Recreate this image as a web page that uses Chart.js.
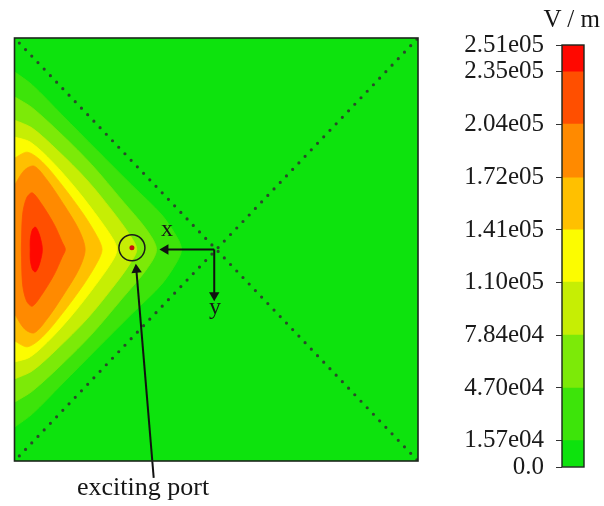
<!DOCTYPE html>
<html lang="en">
<head>
<meta charset="UTF-8">
<title>Field at the exciting port</title>
<script src="https://cdn.jsdelivr.net/npm/chart.js@4.4.1/dist/chart.umd.min.js"></script>
<style>
  body { margin: 0; background: #fff; }
  #wrap { position: relative; width: 604px; height: 506px; font-family: "Liberation Serif", "Times New Roman", serif; color: #151515; }
  #wrap canvas { position: absolute; top: 0; }
  .lbl { position: absolute; line-height: 1; white-space: nowrap; }
</style>
</head>
<body>
<div id="wrap">
  <canvas id="field" width="440" height="506" style="left:0"></canvas>
  <canvas id="bar" width="164" height="506" style="left:440px"></canvas>
  <div class="lbl" style="left:161px;top:216px;font-size:24px">x</div>
  <div class="lbl" style="left:209px;top:294px;font-size:24px">y</div>
  <div class="lbl" style="left:77px;top:474px;font-size:26px">exciting port</div>
  <div class="lbl" style="right:4px;top:6px;font-size:25px">V / m</div>
</div>

<script>
// colour scale, V/m
const levels = [0, 15700, 47000, 78400, 110000, 141000, 172000, 204000, 235000, 251000];
const tickLabels = ['0.0', '1.57e04', '4.70e04', '7.84e04', '1.10e05', '1.41e05', '1.72e05', '2.04e05', '2.35e05', '2.51e05'];
const bandColors = ['#0de30d', '#3de40a', '#7cea08', '#c6ee04', '#fcfc00', '#ffc000', '#ff8a00', '#ff4f00', '#ff0800'];

// contour outlines (x: % of width from left wall, y: % of height from top)
const contour1 = [[0,8.0],[4.4,11.1],[11.8,18.2],[20.4,26.5],[29.1,34.8],[36.5,41.8],[40.4,47.3],[41.4,50],[40.4,52.7],[36.5,58.2],[29.1,65.2],[20.4,73.5],[11.8,81.8],[4.4,88.9],[0,92.0]];
const contour2 = [[0,13.9],[4.4,16.5],[11.8,22.9],[19.2,30.0],[26.6,38.3],[32.8,45.4],[35.2,50],[32.8,54.6],[26.6,61.7],[19.2,70.0],[11.8,77.1],[4.4,83.5],[0,86.1]];
const contour3 = [[0,19.4],[4.4,21.3],[10.6,26.5],[18.0,33.6],[24.1,40.7],[28.6,46.6],[30.3,50],[28.6,53.4],[24.1,59.3],[18.0,66.4],[10.6,73.5],[4.4,78.7],[0,80.6]];
const contour4 = [[0,23.4],[3.9,24.6],[9.4,29.3],[15.5,35.9],[21.2,43.0],[24.6,47.8],[25.4,50],[24.6,52.2],[21.2,57.0],[15.5,64.1],[9.4,70.7],[3.9,75.4],[0,76.6]];
const contour5 = [[0,28.4],[3.2,27.0],[6.9,29.3],[11.8,34.8],[17.2,41.8],[20.7,47.3],[21.7,50],[20.7,52.7],[17.2,58.2],[11.8,65.2],[6.9,70.7],[3.2,73.0],[0,71.6]];
const contour6 = [[0,34.8],[2.5,31.2],[4.9,30.3],[8.1,33.6],[12.3,39.5],[16.0,45.4],[17.5,50],[16.0,54.6],[12.3,60.5],[8.1,66.4],[4.9,69.7],[2.5,68.8],[0,65.2]];
const contour7 = [[1.7,50],[2.0,41.8],[3.0,37.8],[4.4,36.6],[6.9,39.5],[9.9,44.2],[11.8,48.2],[12.6,50],[11.8,51.8],[9.9,55.8],[6.9,60.5],[4.4,63.4],[3.0,62.2],[2.0,58.2],[1.7,50]];
const contour8 = [[3.9,50],[3.9,47.8],[4.4,45.4],[5.2,44.7],[6.2,46.6],[6.9,50],[6.2,53.4],[5.2,55.3],[4.4,54.6],[3.9,52.2],[3.9,50]];
const contours = [contour1, contour2, contour3, contour4, contour5, contour6, contour7, contour8];

// markers on the cross-section
const port = [29.1, 49.6];
const origin = [49.5, 50];
const xArrowEnd = [37.4, 50];
const yArrowEnd = [49.5, 60.8];
const leaderStart = [34.5, 104.0];
const leaderEnd = [30.2, 54.8];

const pt = p => ({x: p[0], y: p[1]});

const plotBackground = {
  id: 'plotBackground',
  beforeDatasetsDraw(chart, args, opts) {
    const {ctx, chartArea: a} = chart;
    ctx.save();
    ctx.fillStyle = opts.color;
    ctx.fillRect(a.left, a.top, a.width, a.height);
    ctx.restore();
  }
};

const frame = {
  id: 'frame',
  afterDatasetsDraw(chart, args, opts) {
    const {ctx, chartArea: a} = chart;
    ctx.save();
    ctx.strokeStyle = opts.color;
    ctx.lineWidth = opts.width;
    ctx.strokeRect(a.left, a.top, a.width, a.height);
    ctx.restore();
  }
};

const contourSets = contours.map((c, i) => ({
  data: c.map(pt),
  backgroundColor: bandColors[i + 1],
  borderColor: bandColors[i + 1],
  borderWidth: 0.8,
  fill: 'shape',
  tension: 0.3,
  pointRadius: 0,
  order: 20 - i
}));

const arrow = (from, to, rot) => ({
  data: [pt(from), pt(to)],
  borderColor: '#111',
  borderWidth: 2,
  pointStyle: 'triangle',
  pointRadius: [0, 6],
  pointRotation: rot,
  pointBackgroundColor: '#111',
  pointBorderWidth: 0,
  fill: false,
  clip: false,
  order: 1
});

const diagonal = (a, b) => ({
  data: [pt(a), pt(b)],
  borderColor: '#2a4a2a',
  borderWidth: 3.2,
  borderDash: [0, 9],
  borderDashOffset: 2,
  borderCapStyle: 'round',
  pointRadius: 0,
  fill: false,
  order: 2
});

new Chart(document.getElementById('field'), {
  type: 'line',
  data: {
    datasets: [
      ...contourSets,
      diagonal([0, 0], [100, 100]),
      diagonal([0, 100], [100, 0]),
      arrow(origin, xArrowEnd, 270),
      arrow(origin, yArrowEnd, 180),
      arrow(leaderStart, leaderEnd, -5),
      { data: [pt(port)], showLine: false, pointRadius: 13, pointBorderWidth: 1.5,
        pointBorderColor: '#1a1a1a', pointBackgroundColor: 'rgba(0,0,0,0)', order: 0 },
      { data: [pt(port)], showLine: false, pointRadius: 2.5, pointBorderWidth: 0,
        pointBackgroundColor: '#c81010', order: 0 }
    ]
  },
  options: {
    responsive: false,
    animation: false,
    events: [],
    layout: { padding: { left: 12, top: 38, right: 22, bottom: 45 } },
    scales: {
      x: { type: 'linear', min: 0, max: 100, display: false },
      y: { type: 'linear', min: 0, max: 100, reverse: true, display: false }
    },
    plugins: {
      legend: { display: false },
      tooltip: { enabled: false },
      plotBackground: { color: bandColors[0] },
      frame: { color: '#1c261c', width: 1.6 }
    }
  },
  plugins: [plotBackground, frame]
});

// colour bar
new Chart(document.getElementById('bar'), {
  type: 'bar',
  data: {
    labels: ['V/m'],
    datasets: bandColors.map((c, i) => ({
      data: [[levels[i], levels[i + 1]]],
      backgroundColor: c,
      borderWidth: 0,
      grouped: false,
      barPercentage: 1,
      categoryPercentage: 1
    }))
  },
  options: {
    responsive: false,
    animation: false,
    events: [],
    layout: { padding: { left: 0, top: 45, right: 20, bottom: 39 } },
    scales: {
      x: { display: false },
      y: {
        min: 0,
        max: levels[levels.length - 1],
        afterFit(scale) { scale.width = 122; },
        afterBuildTicks(scale) { scale.ticks = levels.map(v => ({value: v})); },
        grid: { drawOnChartArea: false, tickLength: 6, color: '#333' },
        border: { display: false },
        ticks: {
          autoSkip: false,
          padding: 12,
          color: '#1a1a1a',
          font: { family: '"Liberation Serif", serif', size: 25 },
          callback: (v, i) => tickLabels[i]
        }
      }
    },
    plugins: {
      legend: { display: false },
      tooltip: { enabled: false },
      frame: { color: '#1c261c', width: 1.4 }
    }
  },
  plugins: [frame]
});
</script>
</body>
</html>
